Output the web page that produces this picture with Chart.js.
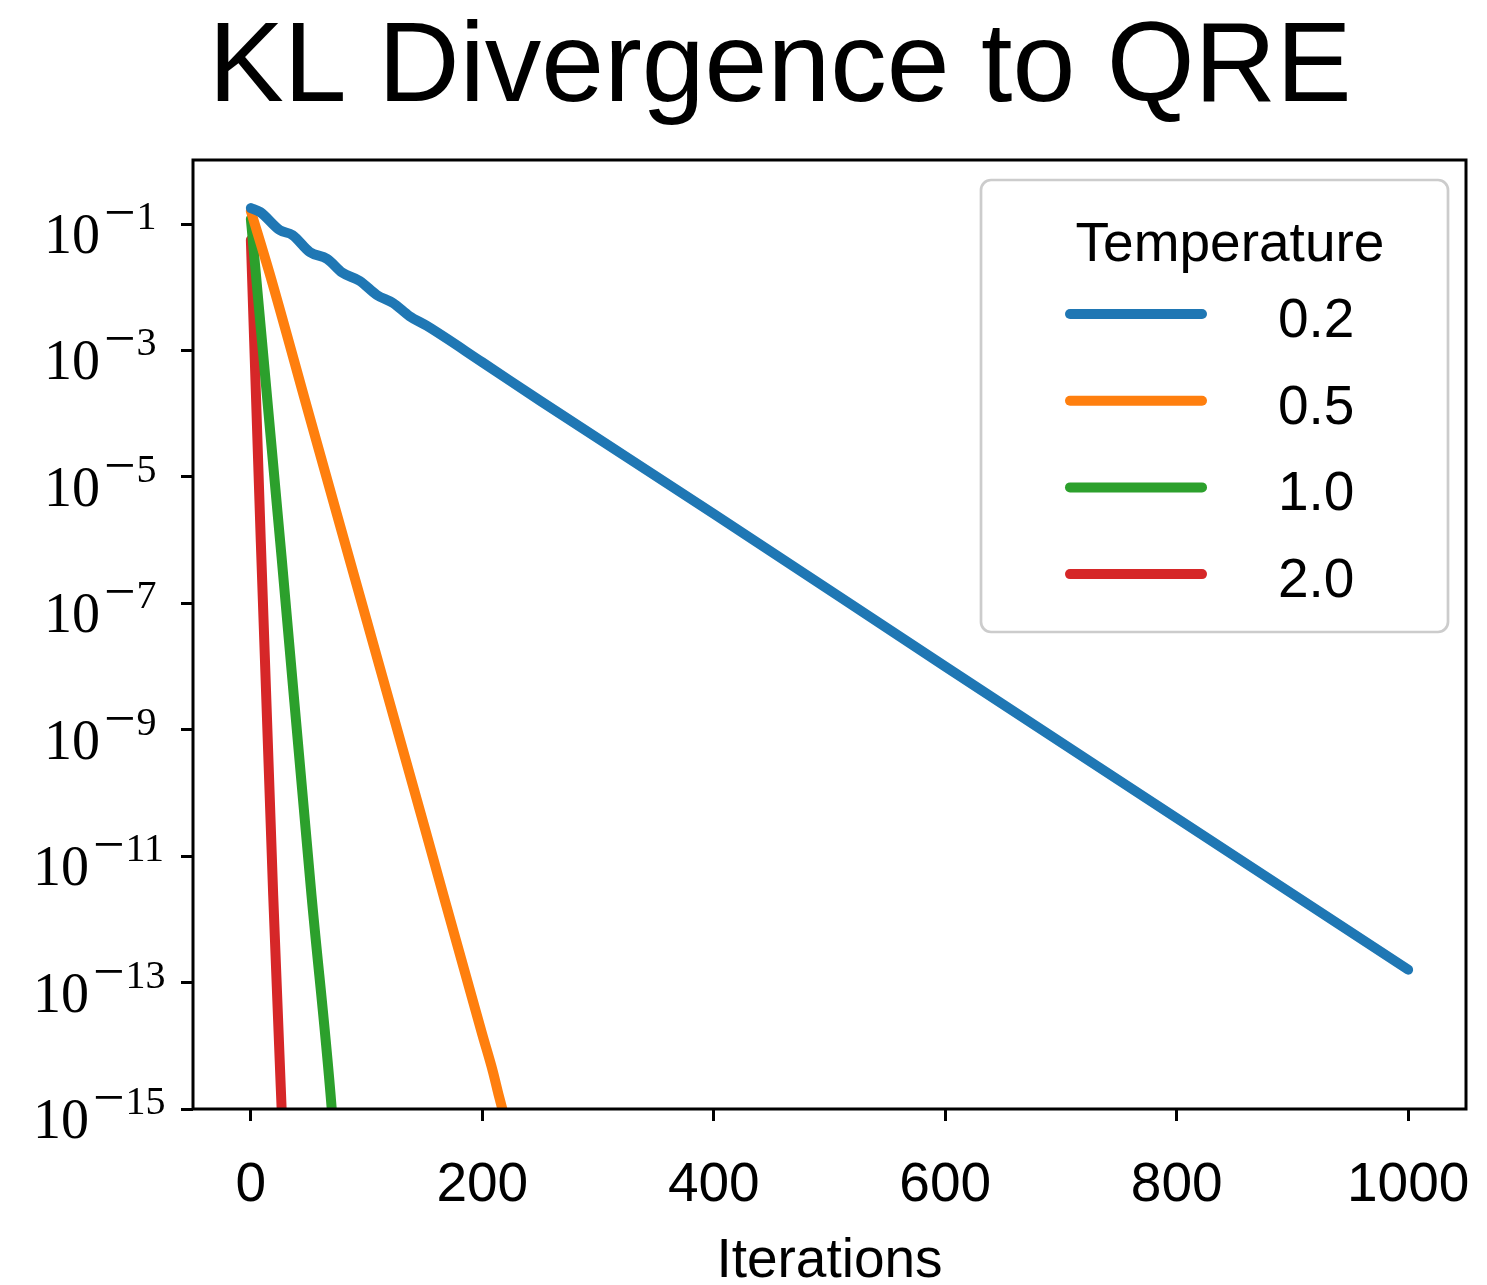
<!DOCTYPE html>
<html>
<head>
<meta charset="utf-8">
<title>KL Divergence to QRE</title>
<script src="https://cdn.jsdelivr.net/npm/chart.js@4/dist/chart.umd.min.js"></script>
<style>
  html, body { margin: 0; padding: 0; background: #ffffff; }
  canvas { display: block; }
</style>
</head>
<body>
<canvas id="chart" width="1487" height="1285"></canvas>
<script>
// ---------- text ----------
const chartTitle = 'KL Divergence to QRE';
const xAxisTitle = 'Iterations';
const legendTitle = 'Temperature';

// ---------- series ----------
const seriesLabels = ['0.2', '0.5', '1.0', '2.0'];
const seriesColors = ['#1f77b4', '#ff7f0e', '#2ca02c', '#d62728'];

const iterT02 = [0, 8, 25, 36, 51, 66, 79, 94, 109, 123, 137, 152, 200, 250, 400, 600, 800, 1000];
const klT02   = [1.79e-1, 1.55e-1, 8.0e-2, 6.7e-2, 3.6e-2, 2.8e-2, 1.7e-2, 1.26e-2, 7.5e-3, 5.6e-3, 3.5e-3, 2.45e-3, 6.5e-4, 1.6e-4, 2.6e-6, 1.0e-8, 4.0e-11, 1.6e-13];

const iterT05 = [0, 16, 50, 100, 150, 200, 209, 214, 218];
const klT05   = [1.6e-1, 1.7e-2, 1.0e-4, 5.4e-8, 2.9e-11, 1.5e-14, 4.0e-15, 1.7e-15, 8.9e-16];

const iterT10 = [0, 26.5, 52.4, 69.7, 71];
const klT10   = [1.2e-1, 5.5e-7, 2.4e-12, 1.1e-15, 5.0e-16];

const iterT20 = [0, 8.6, 19.3, 26.5, 27.5];
const klT20   = [5.6e-2, 9.3e-7, 2.4e-12, 1.1e-15, 4.0e-16];

// ---------- ticks ----------
const xTicks = [0, 200, 400, 600, 800, 1000];
const yTickExponents = [-15, -13, -11, -9, -7, -5, -3, -1];

// ---------- helpers ----------
const SANS = "'Liberation Sans', Arial, Helvetica, sans-serif";
const SERIF = "'Liberation Serif', 'Times New Roman', serif";
const toPoints = (xs, ys) => xs.map((x, i) => ({ x: x, y: ys[i] }));
const allIters = [iterT02, iterT05, iterT10, iterT20];
const allKL = [klT02, klT05, klT10, klT20];

const datasets = seriesLabels.map((lab, i) => ({
  label: lab,
  data: toPoints(allIters[i], allKL[i]),
  borderColor: seriesColors[i],
  backgroundColor: seriesColors[i],
  borderWidth: 10,
  pointRadius: 0,
  pointHoverRadius: 0,
  borderCapStyle: 'round',
  borderJoinStyle: 'round',
  cubicInterpolationMode: 'monotone',
  fill: false,
  clip: 0
}));

const zeroPadding = s => { s.paddingLeft = 0; s.paddingRight = 0; s.paddingTop = 0; s.paddingBottom = 0; };

// frame, y tick labels with superscripts, and legend
const decorations = {
  id: 'decorations',
  afterDatasetsDraw(chart) {
    const ctx = chart.ctx;
    const ca = chart.chartArea;
    ctx.save();
    // frame (all four spines)
    ctx.strokeStyle = '#000000';
    ctx.lineWidth = 3;
    ctx.strokeRect(ca.left, ca.top, ca.right - ca.left, ca.bottom - ca.top);

    // y tick labels 10^{-k}
    const ys = chart.scales.y;
    ctx.fillStyle = '#000000';
    ctx.textBaseline = 'alphabetic';
    ctx.textAlign = 'left';
    yTickExponents.forEach(e => {
      const py = ys.getPixelForValue(Math.pow(10, e));
      const digits = String(Math.abs(e));
      const x0 = digits.length > 1 ? 33 : 44;
      ctx.font = '56px ' + SERIF;
      ctx.fillText('10', x0, py + 29);
      let x = x0 + ctx.measureText('10').width + 4;
      ctx.font = '56px ' + SERIF;
      ctx.fillText('\u2212', x, py + 7);
      x += ctx.measureText('\u2212').width + 1;
      ctx.font = '40px ' + SERIF;
      ctx.fillText(digits, x, py + 5);
    });
    ctx.restore();
  },
  afterDraw(chart) {
    const ctx = chart.ctx;
    const ca = chart.chartArea;
    const bw = 467, bh = 452;
    const bx0 = ca.right - 18 - bw;
    const by0 = ca.top + 20;
    ctx.save();
    ctx.beginPath();
    ctx.roundRect(bx0, by0, bw, bh, 10);
    ctx.fillStyle = 'rgba(255,255,255,0.8)';
    ctx.fill();
    ctx.strokeStyle = '#cccccc';
    ctx.lineWidth = 2.7;
    ctx.stroke();

    ctx.fillStyle = '#000000';
    ctx.font = '55px ' + SANS;
    ctx.textAlign = 'center';
    ctx.textBaseline = 'alphabetic';
    ctx.fillText(legendTitle, bx0 + 249, by0 + 81);

    chart.data.datasets.forEach((ds, i) => {
      const cy = by0 + 134 + i * 86.7;
      ctx.beginPath();
      ctx.moveTo(bx0 + 89, cy);
      ctx.lineTo(bx0 + 221, cy);
      ctx.strokeStyle = ds.borderColor;
      ctx.lineWidth = 10;
      ctx.lineCap = 'round';
      ctx.stroke();
      ctx.fillStyle = '#000000';
      ctx.textAlign = 'left';
      ctx.fillText(ds.label, bx0 + 297, cy + 23);
    });
    ctx.restore();
  }
};

new Chart(document.getElementById('chart').getContext('2d'), {
  type: 'line',
  data: { datasets: datasets },
  options: {
    responsive: false,
    animation: false,
    devicePixelRatio: 1,
    events: [],
    layout: { padding: { left: 94, right: 21, top: 0, bottom: 0 } },
    plugins: {
      legend: { display: false },
      tooltip: { enabled: false },
      title: {
        display: true,
        text: chartTitle,
        color: '#000000',
        font: { family: SANS, size: 113, weight: 'normal', lineHeight: 1.2 },
        padding: { top: 2, bottom: 22.4 }
      }
    },
    scales: {
      x: {
        type: 'linear',
        min: -50,
        max: 1050,
        afterBuildTicks: s => { s.ticks = xTicks.map(v => ({ value: v })); },
        afterFit: s => { s.height = 176; zeroPadding(s); },
        grid: { display: true, drawOnChartArea: false, drawTicks: true, tickLength: 12, tickColor: '#000000', tickWidth: 3 },
        border: { display: false },
        ticks: {
          color: '#000000',
          font: { family: SANS, size: 55, lineHeight: 1.2 },
          padding: 32,
          autoSkip: false,
          maxRotation: 0,
          minRotation: 0,
          callback: v => String(v)
        },
        title: {
          display: true,
          text: xAxisTitle,
          color: '#000000',
          font: { family: SANS, size: 55, lineHeight: 0.84 },
          padding: { top: 0, bottom: 0 }
        }
      },
      y: {
        type: 'logarithmic',
        min: 1e-15,
        max: 1.03,
        afterBuildTicks: s => { s.ticks = yTickExponents.map(e => ({ value: Math.pow(10, e) })); },
        afterFit: s => { s.width = 99; zeroPadding(s); },
        grid: { display: true, drawOnChartArea: false, drawTicks: true, tickLength: 12, tickColor: '#000000', tickWidth: 3 },
        border: { display: false },
        ticks: { callback: () => '', autoSkip: false }
      }
    }
  },
  plugins: [decorations]
});
</script>
</body>
</html>
